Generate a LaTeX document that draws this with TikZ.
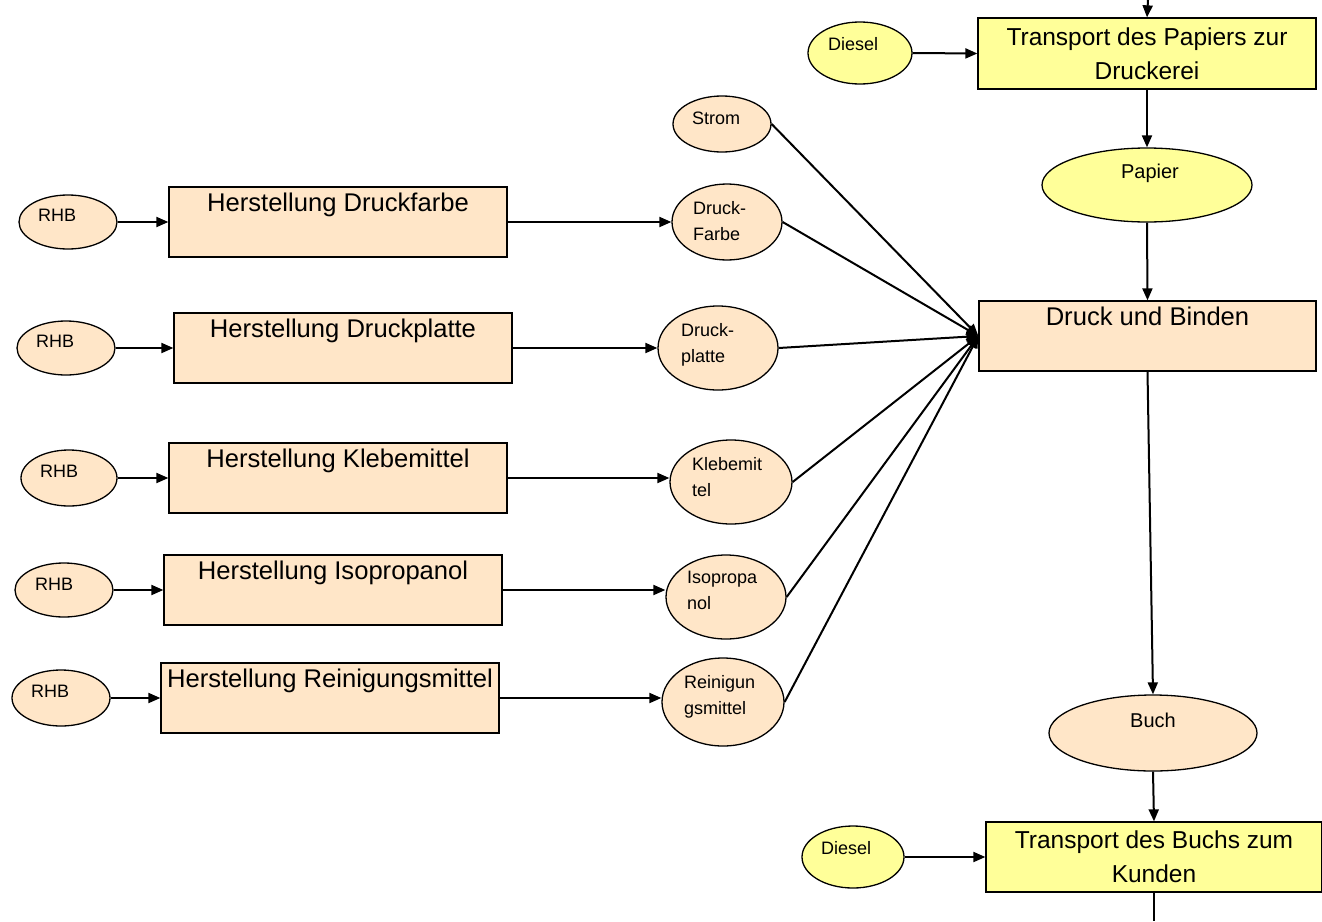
\documentclass[tikz,border=0pt]{standalone}
\usepackage{fontspec}
\setmainfont{Liberation Sans}
\usetikzlibrary{shapes.geometric,arrows.meta,calc}
\definecolor{peach}{HTML}{FFE6C8}
\definecolor{lyellow}{HTML}{FFFF99}
\begin{document}
\begin{tikzpicture}[x=1pt,y=-1pt,
  oval/.style={ellipse,draw,line width=1.3pt,inner sep=0pt},
  boxs/.style={rectangle,draw,line width=1.3pt,inner sep=0pt},
  stxt/.style={inner sep=0pt,align=left,font=\fontsize{18}{26}\selectfont},
  mtxt/.style={inner sep=0pt,font=\fontsize{20}{24}\selectfont},
  btxt/.style={inner sep=0pt,font=\fontsize{25.6}{34}\selectfont},
  conn/.style={line width=2pt},
  arr/.style={line width=2pt,-{Triangle[length=12pt,width=10pt]}}]
\useasboundingbox (0,0) rectangle (1322,921);
\fill[white] (0,0) rectangle (1322,921);

% right column
\node[boxs,fill=lyellow,minimum width=338,minimum height=71,align=center,
      font=\fontsize{24.5}{34}\selectfont] (t1) at (1147,53.5)
      {Transport des Papiers zur\\Druckerei};
\node[oval,fill=lyellow,minimum width=104,minimum height=62] (d1) at (860,53) {};
\node[stxt,anchor=west] (d1t) at (828,44) {Diesel};
\node[oval,fill=lyellow,minimum width=210,minimum height=74] (papier) at (1147,185) {};
\node[mtxt] (papiert) at (1150,173) {Papier};
\node[boxs,fill=peach,minimum width=337,minimum height=70] (druck) at (1147.5,336) {};
\node[btxt,anchor=base] (druckt) at ($(druck.north)+(0,25)$) {Druck und Binden};
\node[oval,fill=peach,minimum width=208,minimum height=76] (buch) at (1153,733) {};
\node[mtxt] (bucht) at (1153,720) {Buch};
\node[boxs,fill=lyellow,minimum width=336,minimum height=70,align=center,
      font=\fontsize{24.5}{34}\selectfont] (t2) at (1154,857)
      {Transport des Buchs zum\\Kunden};
\node[oval,fill=lyellow,minimum width=102,minimum height=62] (d2) at (853,857) {};
\node[stxt,anchor=west] (d2t) at (821,848) {Diesel};
\coordinate (top) at (1148,0);
\coordinate (bot) at (1154,921);

% intermediate products
\node[oval,fill=peach,minimum width=98,minimum height=56] (strom) at (722,124) {};
\node[stxt,anchor=west] (stromt) at (692,118) {Strom};
\node[oval,fill=peach,minimum width=110,minimum height=76] (farbe) at (727,222) {};
\node[stxt,anchor=west] (farbet) at (693,221) {Druck-\\Farbe};
\node[oval,fill=peach,minimum width=120,minimum height=84] (platte) at (718,348) {};
\node[stxt,anchor=west] (plattet) at (681,345) {Druck-\\platte};
\node[oval,fill=peach,minimum width=122,minimum height=84] (kleb) at (731,482) {};
\node[stxt,anchor=west] (klebt) at (692,477) {Klebemit\\tel};
\node[oval,fill=peach,minimum width=120,minimum height=84] (iso) at (726,597) {};
\node[stxt,anchor=west] (isot) at (687,590) {Isopropa\\nol};
\node[oval,fill=peach,minimum width=122,minimum height=88] (rein) at (723,702) {};
\node[stxt,anchor=west] (reint) at (684,697) {Reinigun\\gsmittel};

% production boxes
\node[boxs,fill=peach,minimum width=338,minimum height=70] (b1) at (338,222) {};
\node[btxt,anchor=base] (b1t) at ($(b1.north)+(0,25)$) {Herstellung Druckfarbe};
\node[boxs,fill=peach,minimum width=338,minimum height=70] (b2) at (343,348) {};
\node[btxt,anchor=base] (b2t) at ($(b2.north)+(0,25)$) {Herstellung Druckplatte};
\node[boxs,fill=peach,minimum width=338,minimum height=70] (b3) at (338,478) {};
\node[btxt,anchor=base] (b3t) at ($(b3.north)+(0,25)$) {Herstellung Klebemittel};
\node[boxs,fill=peach,minimum width=338,minimum height=70] (b4) at (333,590) {};
\node[btxt,anchor=base] (b4t) at ($(b4.north)+(0,25)$) {Herstellung Isopropanol};
\node[boxs,fill=peach,minimum width=338,minimum height=70] (b5) at (330,698) {};
\node[btxt,anchor=base] (b5t) at ($(b5.north)+(0,25)$) {Herstellung Reinigungsmittel};

% RHB inputs
\node[oval,fill=peach,minimum width=98,minimum height=54] (rhb1) at (68,222) {};
\node[stxt,anchor=west] (rhb1t) at (38,215) {RHB};
\node[oval,fill=peach,minimum width=98,minimum height=54] (rhb2) at (66,348) {};
\node[stxt,anchor=west] (rhb2t) at (36,341) {RHB};
\node[oval,fill=peach,minimum width=96,minimum height=56] (rhb3) at (69,478) {};
\node[stxt,anchor=west] (rhb3t) at (40,471) {RHB};
\node[oval,fill=peach,minimum width=98,minimum height=54] (rhb4) at (64,590) {};
\node[stxt,anchor=west] (rhb4t) at (35,584) {RHB};
\node[oval,fill=peach,minimum width=98,minimum height=56] (rhb5) at (61,698) {};
\node[stxt,anchor=west] (rhb5t) at (31,691) {RHB};

% connectors right column
\draw[arr] (top) -- (t1.north);
\draw[arr] (d1.east) -- (t1.west);
\draw[arr] (t1.south) -- (papier.north);
\draw[arr] (papier.south) -- (druck.north);
\draw[arr] (druck.south) -- (buch.north);
\draw[arr] (buch.south) -- (t2.north);
\draw[arr] (d2.east) -- (t2.west);
\draw[conn] (t2.south) -- (bot);

% rows
\foreach \i in {1,...,5} {\draw[arr] (rhb\i.east) -- (b\i.west);}
\draw[arr] (b1.east) -- (b1.east -| farbe.west);
\draw[arr] (b2.east) -- (b2.east -| platte.west);
\draw[arr] (b3.east) -- (b3.east -| kleb.west);
\draw[arr] (b4.east) -- (b4.east -| iso.west);
\draw[arr] (b5.east) -- (b5.east -| rein.west);

% converging inputs
\foreach \n in {strom,farbe,platte,kleb,iso,rein} {\draw[arr] (\n.east) -- (druck.west);}
\end{tikzpicture}
\end{document}
